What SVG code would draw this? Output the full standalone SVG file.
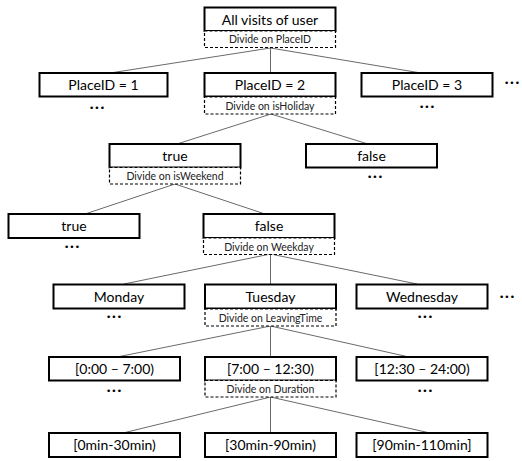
<svg xmlns="http://www.w3.org/2000/svg" width="522" height="461" viewBox="0 0 522 461">
<style>
.box{fill:#fff;stroke:#000;stroke-width:2}
.dbox{fill:#fff;stroke:#000;stroke-width:1.2;stroke-dasharray:3 2}
.t{font-family:Lato,"Liberation Sans",sans-serif;font-size:14px;fill:#000;text-anchor:middle}
.d{font-family:Lato,"Liberation Sans",sans-serif;font-size:10.5px;fill:#222;text-anchor:middle}
.dots{font-family:"DejaVu Sans",sans-serif;font-size:9px;fill:#000;text-anchor:middle}
.c line{stroke:#6a6a6a;stroke-width:1}
</style>
<g class="c" id="connectors">
<line x1="270.5" y1="48" x2="110" y2="73"/>
<line x1="270.5" y1="48" x2="270.5" y2="73"/>
<line x1="270.5" y1="48" x2="421" y2="73"/>
<line x1="271" y1="114" x2="177" y2="144"/>
<line x1="271" y1="114" x2="368" y2="144"/>
<line x1="175" y1="184" x2="85" y2="214"/>
<line x1="175" y1="184" x2="265" y2="214"/>
<line x1="270.5" y1="254" x2="124" y2="284"/>
<line x1="270.5" y1="254" x2="270.5" y2="284"/>
<line x1="270.5" y1="254" x2="417" y2="284"/>
<line x1="270.5" y1="326" x2="117" y2="357"/>
<line x1="270.5" y1="326" x2="270.5" y2="357"/>
<line x1="270.5" y1="326" x2="409" y2="357"/>
<line x1="270.5" y1="397" x2="123" y2="433"/>
<line x1="270.5" y1="397" x2="270.5" y2="433"/>
<line x1="270.5" y1="397" x2="430" y2="433"/>
</g>
<g id="root">
<rect class="box" x="204.5" y="7.5" width="131" height="23.5"/>
<text class="t" x="270" y="24.5">All visits of user</text>
<rect class="dbox" x="204.5" y="31" width="131" height="16.5"/>
<text class="d" x="270" y="43">Divide on PlaceID</text>
</g>
<g id="place1">
<rect class="box" x="39.5" y="73" width="128" height="23.5"/>
<text class="t" x="103.5" y="90">PlaceID = 1</text>
<text class="dots" x="97" y="111">•••</text>
</g>
<g id="place2">
<rect class="box" x="204.5" y="73" width="131" height="23.5"/>
<text class="t" x="270" y="90">PlaceID = 2</text>
<rect class="dbox" x="204.5" y="97" width="131" height="17"/>
<text class="d" x="270" y="109.5">Divide on isHoliday</text>
</g>
<g id="place3">
<rect class="box" x="361.5" y="73" width="131" height="23.5"/>
<text class="t" x="427" y="90">PlaceID = 3</text>
<text class="dots" x="427" y="110">•••</text>
</g>
<text class="dots" x="512" y="86">•••</text>
<g id="holiday-true">
<rect class="box" x="109.5" y="144" width="131" height="23.5"/>
<text class="t" x="175" y="161">true</text>
<rect class="dbox" x="109.5" y="167.5" width="131" height="16.5"/>
<text class="d" x="175" y="180">Divide on isWeekend</text>
</g>
<g id="holiday-false">
<rect class="box" x="306" y="144" width="131" height="23.5"/>
<text class="t" x="371.5" y="161">false</text>
<text class="dots" x="375" y="180">•••</text>
</g>
<g id="weekend-true">
<rect class="box" x="8.5" y="214" width="131" height="24"/>
<text class="t" x="74" y="231">true</text>
<text class="dots" x="72" y="250">•••</text>
</g>
<g id="weekend-false">
<rect class="box" x="203.5" y="214" width="131" height="24"/>
<text class="t" x="269" y="231">false</text>
<rect class="dbox" x="203.5" y="238" width="131" height="16.5"/>
<text class="d" x="269" y="250.5">Divide on Weekday</text>
</g>
<g id="monday">
<rect class="box" x="53.5" y="284.5" width="131" height="24"/>
<text class="t" x="119" y="301.5">Monday</text>
<text class="dots" x="114" y="320">•••</text>
</g>
<g id="tuesday">
<rect class="box" x="205" y="284.5" width="131" height="24"/>
<text class="t" x="270.5" y="301.5">Tuesday</text>
<rect class="dbox" x="205" y="309" width="131" height="17"/>
<text class="d" x="270.5" y="321.5">Divide on LeavingTime</text>
</g>
<g id="wednesday">
<rect class="box" x="356.5" y="284.5" width="131" height="24"/>
<text class="t" x="422" y="301.5">Wednesday</text>
<text class="dots" x="425" y="320">•••</text>
</g>
<text class="dots" x="507" y="300">•••</text>
<g id="time1">
<rect class="box" x="49" y="357" width="131" height="23.5"/>
<text class="t" x="114.5" y="374">[0:00 – 7:00)</text>
<text class="dots" x="114" y="394">•••</text>
</g>
<g id="time2">
<rect class="box" x="205" y="357" width="131" height="23.5"/>
<text class="t" x="270.5" y="374">[7:00 – 12:30)</text>
<rect class="dbox" x="205" y="380.5" width="131" height="16.5"/>
<text class="d" x="270.5" y="393">Divide on Duration</text>
</g>
<g id="time3">
<rect class="box" x="356.5" y="357" width="131" height="23.5"/>
<text class="t" x="422" y="374">[12:30 – 24:00)</text>
<text class="dots" x="425" y="394">•••</text>
</g>
<g id="dur1">
<rect class="box" x="49" y="433" width="131" height="24"/>
<text class="t" x="114.5" y="450">[0min-30min)</text>
</g>
<g id="dur2">
<rect class="box" x="205" y="433" width="131" height="24"/>
<text class="t" x="270.5" y="450">[30min-90min)</text>
</g>
<g id="dur3">
<rect class="box" x="356.5" y="433" width="131" height="24"/>
<text class="t" x="422" y="450">[90min-110min]</text>
</g>
</svg>
